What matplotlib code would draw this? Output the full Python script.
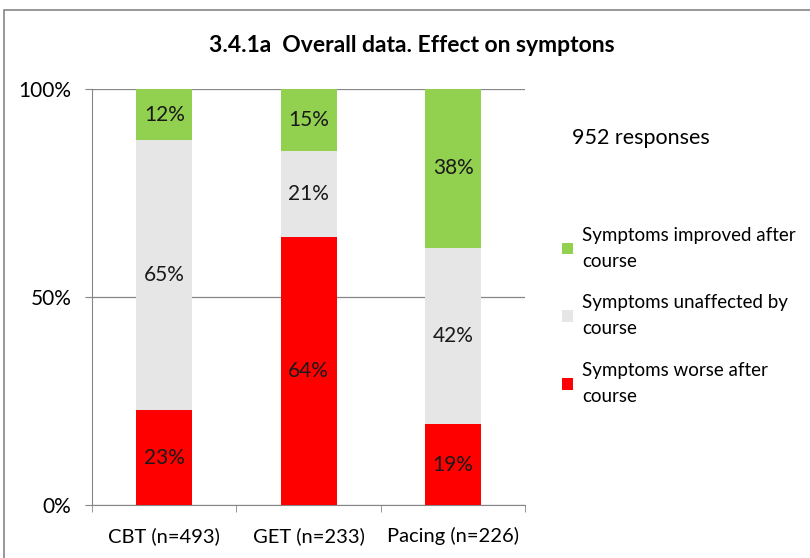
import matplotlib.pyplot as plt
import numpy as np
from matplotlib.patches import Rectangle

plt.rcParams['font.family'] = ['Lato', 'DejaVu Sans']

categories = ['CBT (n=493)', 'GET (n=233)', 'Pacing (n=226)']
worse = [22.8, 64.4, 19.4]
unaffected = [64.9, 20.6, 42.4]
improved = [12.3, 15.0, 38.2]
series_names = ['Symptoms improved after\ncourse', 'Symptoms unaffected by\ncourse',
                'Symptoms worse after\ncourse']
colours = ['#92D050', '#E6E6E6', '#FF0000']

fig = plt.figure(figsize=(8.1, 5.58), dpi=100)
ax = fig.add_axes([0.1136, 0.095, 0.535, 0.7455])

x = np.arange(len(categories))
w = 0.39
b1 = ax.bar(x, worse, w, color=colours[2], zorder=3, label=series_names[2])
b2 = ax.bar(x, unaffected, w, bottom=worse, color=colours[1], zorder=3, label=series_names[1])
bottom2 = np.array(worse) + np.array(unaffected)
b3 = ax.bar(x, improved, w, bottom=bottom2, color=colours[0], zorder=3, label=series_names[0])

for bars, vals, bots in [(b1, worse, [0, 0, 0]), (b2, unaffected, worse), (b3, improved, bottom2)]:
    for i, v in enumerate(vals):
        ax.text(x[i], bots[i] + v / 2, f'{round(v)}%', ha='center', va='center',
                fontsize=15, color='#1a1a1a', zorder=4)

ax.set_xlim(-0.5, 2.5)
ax.set_ylim(0, 100)
ax.set_yticks([0, 50, 100])
ax.set_yticklabels(['0%', '50%', '100%'], fontsize=15)
ax.set_xticks(x)
ax.set_xticklabels(categories, fontsize=14.5)
ax.set_xticks([-0.5, 0.5, 1.5, 2.5], minor=True)
ax.tick_params(axis='x', which='major', length=0, pad=16)
ax.tick_params(axis='x', which='minor', length=5, color='#868686')
ax.tick_params(axis='y', length=5, color='#868686', pad=10)
ax.grid(axis='y', color='#868686', linewidth=0.9, zorder=0)
for s in ['top', 'right']:
    ax.spines[s].set_visible(False)
for s in ['left', 'bottom']:
    ax.spines[s].set_color('#868686')

fig.text(0.509, 0.918, '3.4.1a  Overall data. Effect on symptons', ha='center', va='center',
         fontsize=16.5, fontweight='bold')
fig.text(0.706, 0.752, '952 responses', ha='left', va='center', fontsize=15.5)

handles, labels = ax.get_legend_handles_labels()
leg = ax.legend(handles[::-1], labels[::-1], loc='upper left', bbox_to_anchor=(1.045, 0.71),
                frameon=False, fontsize=13.5, handlelength=0.6, handleheight=0.6,
                handletextpad=0.5, labelspacing=1.32)
for t in leg.get_texts():
    t.set_linespacing(1.65)

fig.add_artist(Rectangle((4 / 810, -0.1), 1.2, 1.1 - 10 / 558, transform=fig.transFigure,
                         fill=False, edgecolor='#868686', linewidth=1.2))

fig.savefig('out.png', dpi=100)
